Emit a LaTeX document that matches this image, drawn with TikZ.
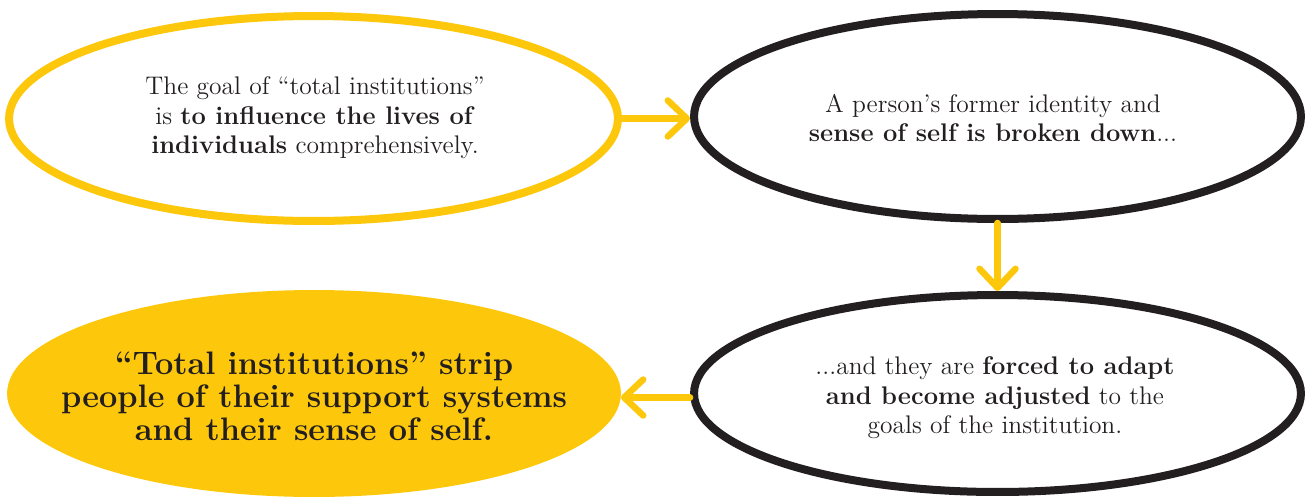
\documentclass[tikz,border=0pt]{standalone}
\usepackage{fontspec}
\usetikzlibrary{shapes.geometric,arrows.meta}
\definecolor{ayellow}{HTML}{FDC80B}
\definecolor{ablack}{HTML}{231F20}
\begin{document}
\begin{tikzpicture}[x=0.02cm,y=-0.02cm,
  bubble/.style={ellipse, line width=0.16cm, inner sep=0pt},
  ybubble/.style={bubble, draw=ayellow},
  kbubble/.style={bubble, draw=ablack},
  fbubble/.style={ellipse, fill=ayellow, line width=0pt, inner sep=0pt},
  txt/.style={align=center, text=ablack, inner sep=0pt, font=\fontsize{14.5}{16.8}\selectfont},
  btxt/.style={align=center, text=ablack, inner sep=0pt, font=\fontsize{18.5}{18.8}\selectfont\bfseries},
  arr/.style={draw=ayellow, line width=0.13cm, line cap=round,
    -{Straight Barb[round,length=0.38cm,width=0.72cm]}}]
\useasboundingbox (0,0) rectangle (1309,498);
\node[ybubble, minimum width=12.18cm, minimum height=4.1cm] (a) at (313.5,118.5) {};
\node[kbubble, minimum width=12.14cm, minimum height=4.1cm] (b) at (997.5,116.5) {};
\node[kbubble, minimum width=12.14cm, minimum height=3.94cm] (c) at (997.5,393.5) {};
\node[fbubble, minimum width=12.28cm, minimum height=4.14cm] (d) at (314,393.5) {};
\node[txt] (at) at (315,118)
  {The goal of “total institutions”\\ is \textbf{to influence the lives of}\\ \textbf{individuals} comprehensively.};
\node[txt] (bt) at (993,118)
  {A person’s former identity and\\ \textbf{sense of self is broken down}...};
\node[txt] (ct) at (995,398)
  {...and they are \textbf{forced to adapt}\\ \textbf{and become adjusted} to the\\ goals of the institution.};
\node[btxt] (dt) at (314,396)
  {“Total institutions” strip\\ people of their support systems\\ and their sense of self.};
\draw[arr] (a.east) -- (a.east -| b.west);
\draw[arr] (b.south) -- (c.north);
\draw[arr] ([yshift=-0.08cm]c.west) -- ([yshift=-0.08cm]c.west -| d.east);
\end{tikzpicture}
\end{document}
